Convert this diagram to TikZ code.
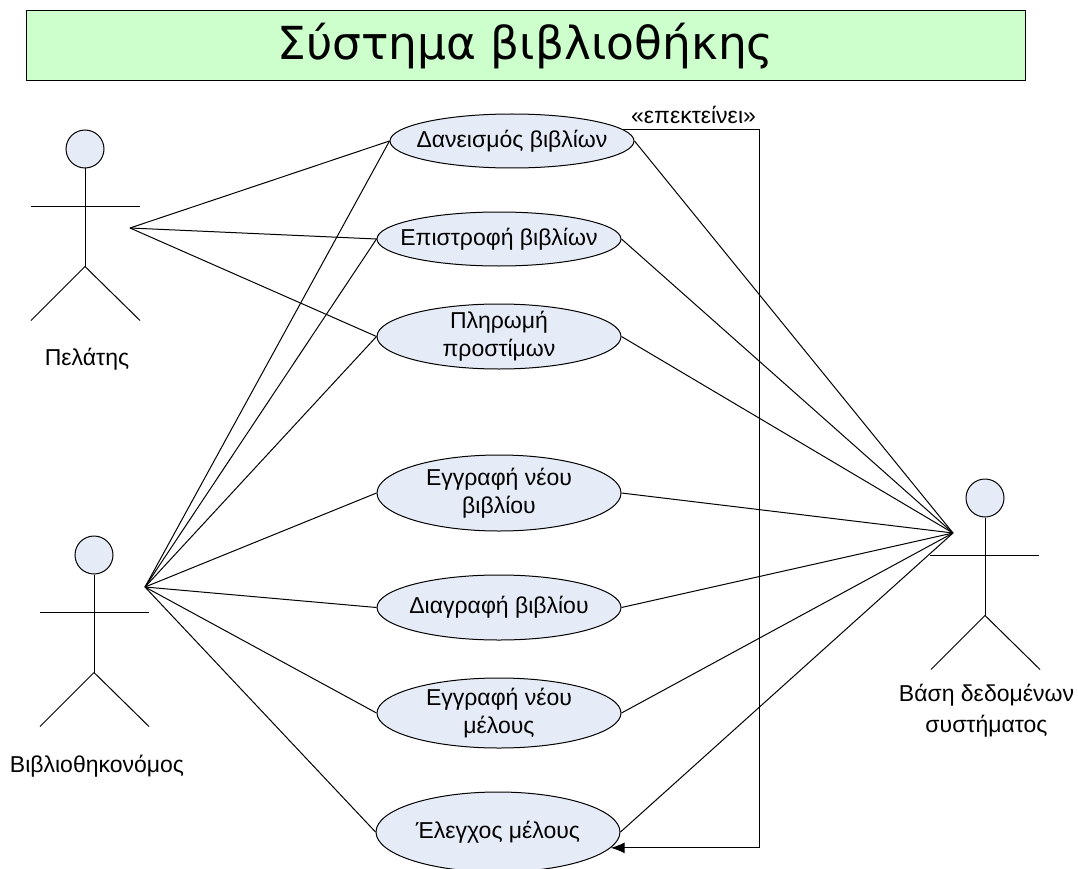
\documentclass[tikz,border=0pt]{standalone}
\usepackage{fontspec}
\setmainfont{Liberation Sans}
\newfontfamily\titlefont{DejaVu Sans}
\usetikzlibrary{shapes.geometric,arrows.meta}
\definecolor{titlegreen}{HTML}{CCFFCC}
\definecolor{usecaseblue}{HTML}{E6ECF7}
\tikzset{
	usecase/.style={draw, ellipse, fill=usecaseblue, inner xsep=-30pt, inner ysep=-12pt, align=center, font=\fontsize{23}{28}\selectfont},
	actorhead/.style={draw, circle, fill=usecaseblue, inner sep=0pt, minimum size=38pt},
	actorlabel/.style={align=center, font=\fontsize{23}{31}\selectfont},
	link/.style={draw, line width=1pt}
}
\begin{document}
\begin{tikzpicture}[x=1pt, y=-1pt, line width=1pt]
	\useasboundingbox (0,0) rectangle (1078,869);

	% Draw the title box
	\node[draw, fill=titlegreen, minimum width=999pt, minimum height=70pt, inner sep=0pt, font=\titlefont\fontsize{45.5}{50}\selectfont] (title) at (525.5,46) {Σύστημα βιβλιοθήκης};

	% Draw the customer
	\node[actorhead] (custhead) at (85,149) {};
	\node[actorlabel] (custlabel) at (87,359) {Πελάτης};
	\coordinate (custhub) at (130,228);
	\draw (custhead.south) -- ++(0,98) coordinate (custhip);
	\draw (custhip) -- ++(-54,54);
	\draw (custhip) -- ++(55,54);
	\draw (31,206) -- (140,206);

	% Draw the librarian
	\node[actorhead] (libhead) at (94,555) {};
	\node[actorlabel] (liblabel) at (97,766) {Βιβλιοθηκονόμος};
	\coordinate (libhub) at (145,587);
	\draw (libhead.south) -- ++(0,98) coordinate (libhip);
	\draw (libhip) -- ++(-54,54);
	\draw (libhip) -- ++(55,54);
	\draw (40,612) -- (149,612);

	% Draw the database
	\node[actorhead] (dbhead) at (985,498) {};
	\node[actorlabel] (dblabel) at (986.5,711) {Βάση δεδομένων\\συστήματος};
	\coordinate (dbhub) at (953,533);
	\draw (dbhead.south) -- ++(0,98) coordinate (dbhip);
	\draw (dbhip) -- ++(-54,54);
	\draw (dbhip) -- ++(55,54);
	\draw (930,555) -- (1039,555);

	% Draw the use cases
	\node[usecase, minimum width=244pt, minimum height=54pt] (lend) at (512,141) {Δανεισμός βιβλίων};
	\node[usecase, minimum width=244pt, minimum height=54pt] (back) at (499,239) {Επιστροφή βιβλίων};
	\node[usecase, minimum width=244pt, minimum height=65pt] (fine) at (499,336.5) {Πληρωμή\\προστίμων};
	\node[usecase, minimum width=244pt, minimum height=76pt] (newbook) at (499,493) {Εγγραφή νέου\\βιβλίου};
	\node[usecase, minimum width=244pt, minimum height=65pt] (delbook) at (499,607.5) {Διαγραφή βιβλίου};
	\node[usecase, minimum width=244pt, minimum height=70pt] (newmember) at (499,713) {Εγγραφή νέου\\μέλους};
	\node[usecase, minimum width=244pt, minimum height=80pt] (check) at (498,832) {Έλεγχος μέλους};

	% Draw the customer links
	\draw[link] (custhub) -- (lend.west);
	\draw[link] (custhub) -- (back.west);
	\draw[link] (custhub) -- (fine.west);

	% Draw the librarian links
	\draw[link] (libhub) -- (lend.west);
	\draw[link] (libhub) -- (back.west);
	\draw[link] (libhub) -- (fine.west);
	\draw[link] (libhub) -- (newbook.west);
	\draw[link] (libhub) -- (delbook.west);
	\draw[link] (libhub) -- (newmember.west);
	\draw[link] (libhub) -- (check.west);

	% Draw the database links
	\draw[link] (dbhub) -- (lend.east);
	\draw[link] (dbhub) -- (back.east);
	\draw[link] (dbhub) -- (fine.east);
	\draw[link] (dbhub) -- (newbook.east);
	\draw[link] (dbhub) -- (delbook.east);
	\draw[link] (dbhub) -- (newmember.east);
	\draw[link] (dbhub) -- (check.east);

	% Draw the extends arrow
	\coordinate (extbend) at (759,500);
	\draw[link, -{Latex[length=14pt, width=11pt]}] (lend.6) -| (extbend) |- (check.-8);
	\node[font=\fontsize{23}{28}\selectfont] (extlabel) at (693.5,115) {«επεκτείνει»};
\end{tikzpicture}
\end{document}
